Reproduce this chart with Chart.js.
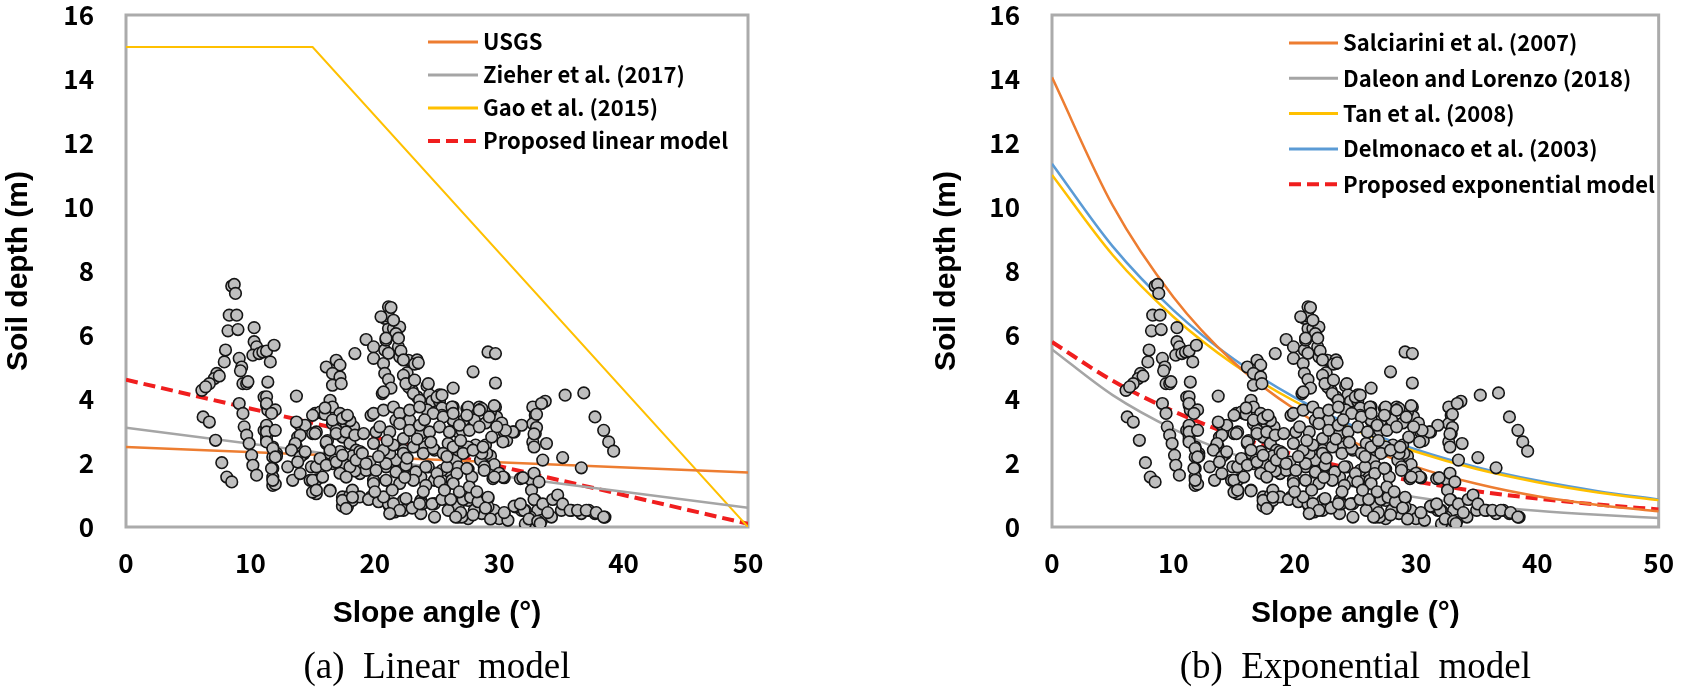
<!DOCTYPE html>
<html>
<head>
<meta charset="utf-8">
<script src="https://cdn.jsdelivr.net/npm/chart.js@4.4.1/dist/chart.umd.min.js"></script>
<style>
  html, body { margin: 0; padding: 0; background: #fff; }
  body { width: 1695px; height: 687px; position: relative; overflow: hidden; }
  #linearChart { position: absolute; left: 0; top: 0; }
  #expChart { position: absolute; left: 928px; top: 0; }
</style>
</head>
<body>
<canvas id="linearChart" width="800" height="687"></canvas>
<canvas id="expChart" width="767" height="687"></canvas>
<script>
// Field survey: slope angle (deg) vs soil depth (m), same points on both panels
const fieldPoints = [
  [8.5,7.53],[8.7,7.58],[8.8,7.30],[8.3,6.62],[8.9,6.62],[8.2,6.13],[9.0,6.17],[8.0,5.53],[7.9,5.16],[7.3,4.80],
  [7.1,4.64],[6.7,4.48],[6.1,4.27],[6.4,4.38],[7.5,4.72],[6.2,3.44],[6.7,3.28],[7.2,2.71],[7.7,2.01],[8.1,1.56],[8.5,1.41],
  [9.1,5.27],[9.3,5.00],[9.4,4.48],[9.7,4.48],[9.2,4.88],[9.8,4.54],
  [9.1,3.86],[9.4,3.55],[9.5,3.13],[9.7,2.87],[9.9,2.61],[10.1,2.24],[10.2,1.93],[10.5,1.62],
  [10.3,6.23],[10.3,5.79],[10.5,5.63],[10.2,5.37],[10.7,5.42],[11.0,5.47],[11.3,5.50],[11.9,5.68],[11.6,5.16],[11.4,4.53],
  [11.1,4.06],[11.3,3.81],[11.4,3.65],[11.1,3.02],[11.3,2.71],[11.7,3.02],[11.8,2.50],[11.8,2.19],[11.8,1.83],[11.8,1.56],
  [11.8,1.30],[12.1,2.30],[11.3,4.07],[11.3,3.86],[12.0,3.66],[11.3,3.04],[11.3,2.84],[12.1,2.22],[12.0,1.34],[11.7,3.55],
  [11.3,3.18],[11.3,2.97],[11.3,2.66],[12.0,3.02],[11.8,2.45],[12.0,2.19],[11.7,1.83],[11.8,1.46],
  [13.7,4.09],[13.0,1.88],[13.4,1.46],[14.0,1.67],[14.2,2.30],[13.8,2.81],[14.0,3.18],[14.4,3.18],[15.0,2.92],[13.5,2.50],
  [13.7,2.50],[14.8,1.46],[15.3,1.04],[15.0,1.09],[15.2,3.55],[15.8,3.55],[16.1,2.61],[16.4,2.30],[16.6,1.98],[16.4,1.15],
  [16.1,5.00],[16.9,5.21],[17.2,5.06],[16.6,4.80],[17.2,4.69],[16.6,4.43],[17.3,4.48],[16.4,3.96],[16.6,3.75],[17.2,3.55],
  [17.6,3.44],[17.7,3.23],[18.3,3.13],[16.6,3.23],[16.9,3.02],[17.4,2.81],[18.0,2.61],[18.5,2.40],[17.2,2.19],[17.7,1.98],
  [18.3,1.77],[18.8,1.67],[19.3,1.77],[17.4,0.94],[17.8,0.63],[18.2,0.83],[18.4,5.42],
  [15.3,2.97],[14.3,2.29],[14.9,1.88],[15.3,1.47],[16.4,1.13],[15.6,3.59],[16.0,3.52],[16.0,3.72],[18.0,3.32],[16.2,2.70],
  [17.2,2.36],[16.8,2.09],[17.6,1.95],[18.2,2.22],[18.8,2.36],[17.2,1.68],[18.4,1.75],[17.4,0.65],[18.0,0.99],
  [13.7,3.28],[15.2,2.92],[14.0,2.87],[13.6,2.61],[13.3,2.40],[14.0,2.19],[13.8,2.03],[14.4,2.35],[15.0,3.49],[16.6,3.34],
  [17.4,3.39],[17.8,3.49],[16.1,2.66],[16.4,2.40],[16.9,2.92],[17.7,2.97],[18.4,2.87],[19.1,2.92],[19.7,3.49],[20.1,2.97],
  [21.2,2.97],[22.3,2.76],[22.8,3.34],[21.7,3.34],
  [15.3,1.88],[15.0,1.46],[15.3,1.15],[15.8,1.56],[15.6,2.14],[16.1,1.93],[16.9,2.03],[17.4,2.24],[18.0,1.88],[18.5,2.09],
  [19.0,2.30],[19.6,2.03],[20.9,1.88],[21.7,2.09],[22.5,1.88],[21.2,2.30],[22.3,2.40],[17.7,1.56],[19.9,1.46],
  [17.4,0.83],[17.7,0.58],[18.2,1.15],[18.8,0.94],[19.7,0.94],[20.4,0.83],[21.2,0.63],[21.6,0.47],[22.3,0.83],[22.8,0.63],
  [19.3,5.86],[19.9,5.63],[19.9,5.27],[20.7,5.11],[20.8,5.53],[20.9,5.84],[21.1,6.20],[20.8,6.52],[21.1,6.88],[21.5,6.20],
  [21.7,5.99],[22.0,6.25],[21.9,5.63],[22.0,5.32],[22.7,5.21],[23.4,5.11],[20.8,4.80],[20.6,4.17],
  [21.1,4.61],[21.3,4.34],[21.1,5.43],[21.1,6.59],[21.3,6.86],[21.7,6.04],[21.9,5.90],[20.9,5.90],[22.1,5.50],[22.3,5.22],
  [22.6,4.82],[22.8,4.54],[23.0,4.27],[23.4,4.07],[23.4,5.22],[23.2,5.09],[20.5,6.57],[21.5,6.46],[20.7,4.22],[22.7,4.38],
  [24.2,4.41],[24.4,4.13],[24.6,3.93],[24.2,3.66],[25.2,4.13],[25.2,3.93],[25.4,3.72],[26.3,4.34],[22.3,4.74],[22.5,4.48],
  [23.1,4.17],[23.6,3.96],[24.3,4.48],[25.0,4.06],[26.3,3.75],[27.4,3.70],[28.4,3.75],[29.7,3.75],[29.8,3.44],[27.9,3.34],
  [27.9,4.85],[29.1,5.47],[29.7,5.42],[29.7,4.50],[23.5,5.13],[25.4,4.12],[23.2,4.59],[35.3,4.12],[36.8,4.19],
  [26.3,3.32],[26.7,2.97],[27.1,3.32],[27.5,3.66],[28.5,3.66],[28.9,3.25],[29.3,3.59],[29.6,3.79],[30.2,3.25],[30.4,2.97],
  [30.6,2.70],[31.2,2.97],[28.9,2.56],[29.3,2.22],[29.6,1.95],[30.0,1.68],[30.4,1.54],[28.1,2.56],[27.3,2.36],[28.5,2.09],
  [27.5,1.81],[26.5,2.09],[26.1,1.68],
  [37.7,3.44],[38.4,3.02],[38.8,2.66],[39.2,2.37],[35.1,2.17],[36.6,1.85],[32.7,3.75],[32.9,3.49],[32.7,3.23],[32.9,2.92],
  [32.7,2.66],[33.8,2.61],[31.8,3.18],[31.1,2.97],[30.5,3.02],[30.3,2.66],[29.8,3.13],[29.4,2.81],[29.0,2.30],[28.8,1.88],
  [29.5,1.51],[30.3,1.56],[31.7,1.51],[32.6,1.46],[32.6,1.15],[32.9,0.83],[33.1,0.52],[32.5,0.31],[31.8,0.52],
  [25.9,0.83],[26.7,0.63],[27.5,0.83],[28.3,0.83],[29.1,0.89],[29.6,0.52],[30.4,0.42],[31.3,0.63],[32.1,0.52],[33.4,0.21],
  [34.2,0.31],[35.0,0.52],[35.8,0.52],[36.6,0.42],[37.2,0.52],[37.7,0.42],[38.5,0.31],[26.7,0.31],[27.5,0.26],[28.6,0.42],
  [30.0,0.26],[30.7,0.21],[32.1,0.10],
  [26.2,3.75],[27.5,3.75],[28.6,3.70],[25.4,3.49],[26.3,3.34],[28.0,3.34],[27.0,3.02],[23.7,2.92],[25.9,2.61],[24.0,2.50],
  [24.8,2.40],[26.7,2.40],[27.5,2.50],[28.6,2.30],[24.3,1.88],[25.4,1.77],[26.7,1.88],[27.8,1.56],[28.8,1.77],[26.2,1.46],
  [24.8,1.46],[23.7,1.56],[29.6,1.56],[23.7,0.83],[24.8,0.73],[25.9,0.52],[27.0,0.31],[28.0,0.52],[29.1,0.63],[24.8,0.31],[23.7,0.42],
  [18.2,0.93],[19.5,0.86],[20.3,0.79],[21.1,0.72],[21.5,0.52],[22.3,0.52],[23.0,0.59],[23.8,0.72],[24.6,0.72],[25.4,0.86],
  [26.1,0.86],[27.1,0.86],[27.7,0.93],[28.3,0.79],[29.1,0.93],[28.9,0.59],[27.9,0.38],[26.9,0.45],[26.5,0.31],[29.3,0.25],
  [30.4,0.45],[31.2,0.65],[32.0,0.52],[32.4,0.25],[33.1,0.18],[32.8,0.86],[33.5,0.72],[34.3,0.86],[34.7,1.00],[35.1,0.72],
  [35.7,0.52],[36.3,0.52],[37.0,0.52],[37.8,0.45],[38.4,0.31],[33.9,0.45],[33.3,0.11],
  [33.0,3.52],[33.7,3.93],[33.4,3.86],[33.0,3.11],[32.8,2.91],[32.8,2.50],[33.5,2.09],[32.8,1.68],[33.2,1.41],[31.9,1.54],[31.7,0.72],
  [19.9,3.55],[20.7,3.65],[21.5,3.75],[22.0,3.55],[22.8,3.65],[23.6,3.75],[24.7,3.55],[25.5,3.44],[26.3,3.55],[27.4,3.49],
  [28.4,3.65],[29.2,3.44],[20.4,3.13],[22.0,3.23],[22.8,3.02],[23.6,3.18],[24.4,2.97],[25.2,3.13],[26.0,2.97],[26.8,3.18],
  [27.6,3.02],[28.4,3.13],[19.9,2.61],[20.7,2.40],[21.5,2.56],[22.3,2.30],[23.1,2.50],[23.9,2.30],[24.7,2.45],[25.5,2.30],
  [26.3,2.50],[27.1,2.30],[27.9,2.40],[28.7,2.50],[19.3,1.98],[20.1,1.77],[20.9,1.98],[21.7,1.72],[22.5,1.93],[23.3,1.72],
  [24.1,1.88],[25.0,1.67],[25.8,1.88],[26.6,1.67],[27.4,1.83],[19.9,1.36],[20.9,1.46],[22.0,1.36],[23.1,1.46],[24.1,1.30],
  [25.2,1.41],[26.3,1.36],[20.7,0.94],[21.5,0.73],[22.5,0.89],[23.6,0.73],[22.0,0.52],[21.2,0.42],
  [20.3,2.20],[21.0,2.70],[22.6,2.15],[23.4,2.75],[24.5,2.65],[25.8,2.20],[26.9,2.70],[24.0,3.35],[22.4,1.55],[23.9,1.10],
  [25.6,1.15],[26.8,1.10],[21.4,1.15],[20.0,1.10],[27.6,1.25],[28.2,1.10]
];

// (a) linear models
const linearNames = ['USGS', 'Zieher et al. (2017)', 'Gao et al. (2015)', 'Proposed linear model'];
const usgsAngle = [0, 50];
const usgsDepth = [2.5, 1.7];
const zieherAngle = [0, 50];
const zieherDepth = [3.1, 0.6];
const gaoAngle = [0, 15, 50];
const gaoDepth = [15, 15, 0];
const propLinAngle = [0, 50];
const propLinDepth = [4.6, 0.1];

// (b) exponential models, read every 5 degrees
const expNames = ['Salciarini et al. (2007)', 'Daleon and Lorenzo (2018)', 'Tan et al. (2008)',
                  'Delmonaco et al. (2003)', 'Proposed exponential model'];
const expAngle = [0, 5, 10, 15, 20, 25, 30, 35, 40, 45, 50];
const salciariniDepth = [14.05, 10.05, 7.19, 5.14, 3.68, 2.63, 1.88, 1.35, 0.96, 0.69, 0.49];
const daleonDepth = [5.55, 4.12, 3.06, 2.27, 1.68, 1.25, 0.93, 0.69, 0.51, 0.38, 0.28];
const tanDepth = [11.0, 8.50, 6.57, 5.08, 3.93, 3.03, 2.35, 1.81, 1.40, 1.08, 0.84];
const delmonacoDepth = [11.35, 8.77, 6.78, 5.24, 4.05, 3.13, 2.42, 1.87, 1.45, 1.12, 0.86];
const propExpDepth = [5.78, 4.57, 3.62, 2.86, 2.26, 1.79, 1.42, 1.12, 0.89, 0.70, 0.55];

const captions = ['(a)  Linear  model', '(b)  Exponential  model'];

const ORANGE = '#ED7D31', GRAY = '#A5A5A5', YELLOW = '#FFC000', BLUE = '#5B9BD5', RED = '#F01E1E';
const boldSans = "'Noto Sans CJK KR', 'Noto Sans', sans-serif";

function pairs(xs, ys) {
    return xs.map(function(x, i) { return { x: x, y: ys[i] }; });
}

function lineSet(label, xs, ys, color, extra) {
    return Object.assign({
        label: label,
        data: pairs(xs, ys),
        showLine: true,
        borderColor: color,
        backgroundColor: color,
        borderWidth: 2.5,
        pointRadius: 0,
        fill: false
    }, extra || {});
}

// grey frame round the plot area
const framePlugin = {
    id: 'frame',
    beforeDatasetsDraw: function(chart) {
        const a = chart.chartArea, ctx = chart.ctx;
        ctx.save();
        ctx.strokeStyle = '#ABABAB';
        ctx.lineWidth = 3;
        ctx.strokeRect(a.left, a.top, a.right - a.left, a.bottom - a.top);
        ctx.restore();
    }
};

// legend drawn inside the plot, upper right
const innerLegend = {
    id: 'innerLegend',
    afterDatasetsDraw: function(chart, args, opts) {
        const ctx = chart.ctx, a = chart.chartArea;
        ctx.save();
        ctx.font = 'bold 22px ' + boldSans;
        ctx.textBaseline = 'middle';
        ctx.textAlign = 'left';
        ctx.fillStyle = '#000';
        let row = 0;
        chart.data.datasets.forEach(function(ds) {
            if (!ds.showLine) return;
            const x = a.left + opts.left;
            const y = a.top + opts.top + row * opts.spacing;
            ctx.beginPath();
            ctx.strokeStyle = ds.borderColor;
            ctx.lineWidth = ds.borderDash ? 4 : 3;
            ctx.setLineDash(ds.borderDash || []);
            ctx.moveTo(x, y);
            ctx.lineTo(x + opts.lineLength, y);
            ctx.stroke();
            ctx.setLineDash([]);
            ctx.fillText(ds.label, x + opts.lineLength + 5, y);
            row++;
        });
        ctx.restore();
    }
};

function makeChart(id, caption, lines, pad, yWidth, legendPos) {
    const ctx = document.getElementById(id).getContext('2d');
    const scatterSet = {
        label: 'Measured',
        data: fieldPoints.map(function(p) { return { x: p[0], y: p[1] }; }),
        showLine: false,
        pointRadius: 5.8,
        pointBackgroundColor: '#BFBFBF',
        pointBorderColor: '#151515',
        pointBorderWidth: 1.6
    };
    return new Chart(ctx, {
        type: 'scatter',
        data: { datasets: [scatterSet].concat(lines) },
        plugins: [framePlugin, innerLegend],
        options: {
            responsive: false,
            animation: false,
            devicePixelRatio: 1,
            layout: { padding: pad },
            scales: {
                x: {
                    type: 'linear', min: 0, max: 50,
                    grid: { display: false, drawTicks: false },
                    border: { display: false },
                    ticks: { stepSize: 10, padding: 21, color: '#000',
                             font: { family: boldSans, size: 26, weight: 'bold' } },
                    title: { display: true, text: 'Slope angle (°)', color: '#000',
                             font: { family: "'Liberation Sans', Arial, sans-serif", size: 30, weight: 'bold' },
                             padding: { top: 0, bottom: 0 } },
                    // fixed band under the plot for tick labels and title
                    afterFit: function(scale) { scale.height = 105; }
                },
                y: {
                    type: 'linear', min: 0, max: 16,
                    grid: { display: false, drawTicks: false },
                    border: { display: false },
                    ticks: { stepSize: 2, padding: 32, color: '#000',
                             font: { family: boldSans, size: 26, weight: 'bold' } },
                    title: { display: true, text: 'Soil depth (m)', color: '#000',
                             font: { family: "'Liberation Sans', Arial, sans-serif", size: 30, weight: 'bold' },
                             padding: { top: 0, bottom: 0 } },
                    afterFit: function(scale) {
                        scale.width = yWidth;
                        scale.paddingTop = 15;
                        scale.paddingBottom = 15;
                    }
                }
            },
            plugins: {
                legend: { display: false },
                tooltip: { enabled: false },
                title: {
                    display: true,
                    position: 'bottom',
                    fullSize: false,
                    text: caption,
                    color: '#000',
                    font: { family: "'Liberation Serif', 'Times New Roman', serif", size: 37, weight: 'normal', lineHeight: 1 },
                    padding: { top: 18, bottom: 0 }
                },
                innerLegend: legendPos
            }
        }
    });
}

document.addEventListener('DOMContentLoaded', function() {
    // (a) Linear model
    makeChart('linearChart', captions[0], [
        lineSet(linearNames[0], usgsAngle, usgsDepth, ORANGE),
        lineSet(linearNames[1], zieherAngle, zieherDepth, GRAY),
        lineSet(linearNames[2], gaoAngle, gaoDepth, YELLOW, { borderWidth: 2 }),
        lineSet(linearNames[3], propLinAngle, propLinDepth, RED, { borderWidth: 4, borderDash: [12, 6] })
    ], { top: 15, left: 1, right: 52, bottom: 0 }, 125,
    { left: 302, top: 27, spacing: 33, lineLength: 50 });

    // (b) Exponential model
    const curve = { cubicInterpolationMode: 'monotone' };
    makeChart('expChart', captions[1], [
        lineSet(expNames[0], expAngle, salciariniDepth, ORANGE, curve),
        lineSet(expNames[1], expAngle, daleonDepth, GRAY, curve),
        lineSet(expNames[2], expAngle, tanDepth, YELLOW, curve),
        lineSet(expNames[3], expAngle, delmonacoDepth, BLUE, curve),
        lineSet(expNames[4], expAngle, propExpDepth, RED,
                Object.assign({ borderWidth: 4, borderDash: [12, 6] }, curve))
    ], { top: 15, left: 1, right: 22, bottom: 0 }, 123,
    { left: 237, top: 28, spacing: 35.3, lineLength: 49 });
});
</script>
</body>
</html>
